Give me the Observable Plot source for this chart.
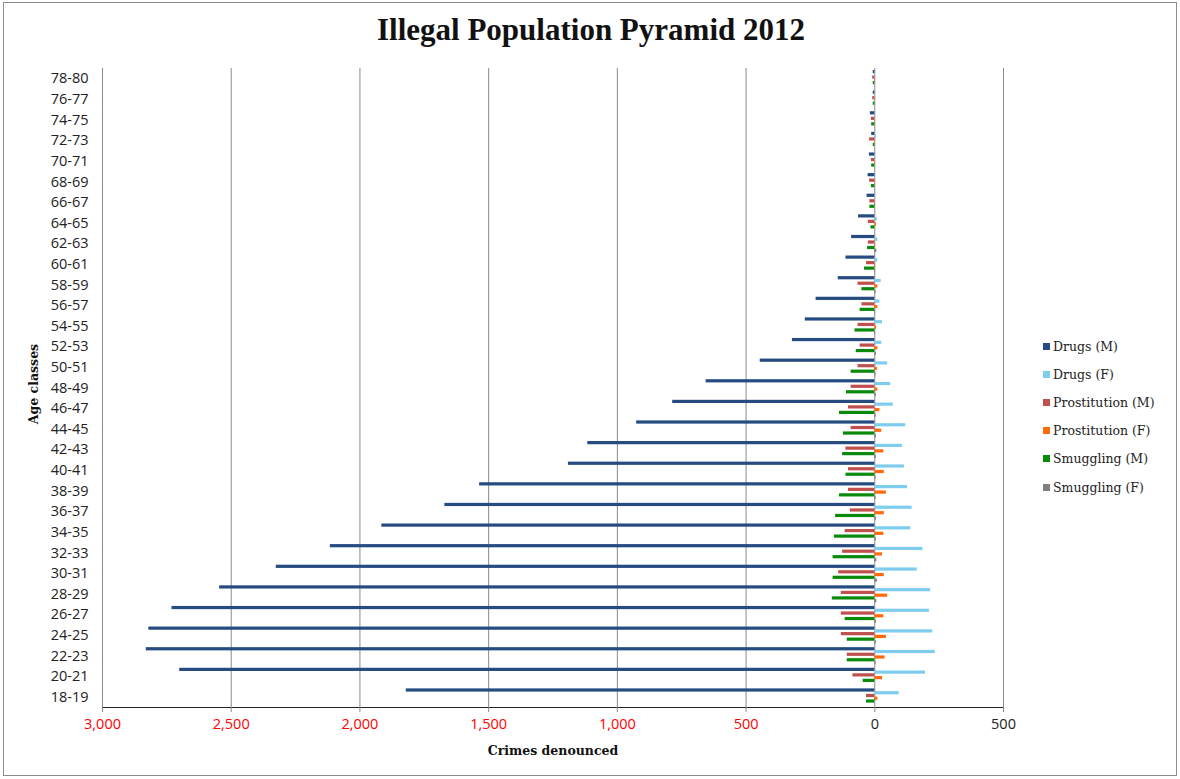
<!DOCTYPE html>
<html>
<head>
<meta charset="utf-8">
<script src="https://cdn.jsdelivr.net/npm/d3@7"></script>
<script src="https://cdn.jsdelivr.net/npm/@observablehq/plot@0.6"></script>
<style>
  body { margin: 0; background: #fff; }
  #wrap { position: relative; width: 1180px; height: 779px; overflow: hidden; background: #fff; }
  #border { position: absolute; left: 3px; top: 2px; width: 1174px; height: 774px; border: 1px solid #8c8c8c; box-sizing: border-box; pointer-events: none; }
  #chart { position: absolute; left: 0; top: 0; }
  #title { position: absolute; left: 0; width: 1182px; top: 12px; text-align: center; font-family: "Liberation Serif", serif; font-weight: bold; font-size: 31px; color: #111; }
  #xlabel { position: absolute; left: 453px; width: 200px; top: 743px; text-align: center; font-family: "DejaVu Serif", serif; font-weight: bold; font-size: 12.5px; color: #111; }
  #ylabel { position: absolute; left: 33px; top: 384px; transform: translate(-50%, -50%) rotate(-90deg); white-space: nowrap; font-family: "DejaVu Serif", serif; font-weight: bold; font-size: 12.5px; color: #111; }
  #legend { position: absolute; left: 1043px; top: 332px; font-family: "DejaVu Serif", serif; font-size: 12.5px; color: #222; }
  .item { height: 28.2px; display: flex; align-items: center; white-space: nowrap; }
  .sw { width: 7px; height: 7px; margin-right: 3px; display: inline-block; }
</style>
</head>
<body>
<div id="wrap">
  <div id="chart"></div>
  <div id="title">Illegal Population Pyramid 2012</div>
  <div id="xlabel">Crimes denounced</div>
  <div id="ylabel">Age classes</div>
  <div id="legend"></div>
  <div id="border"></div>
</div>
<script>
// Age classes, youngest first
const ages = ["18-19","20-21","22-23","24-25","26-27","28-29","30-31","32-33","34-35","36-37",
  "38-39","40-41","42-43","44-45","46-47","48-49","50-51","52-53","54-55","56-57",
  "58-59","60-61","62-63","64-65","66-67","68-69","70-71","72-73","74-75","76-77","78-80"];

const seriesNames = ["Drugs (M)","Drugs (F)","Prostitution (M)","Prostitution (F)","Smuggling (M)","Smuggling (F)"];

// Crimes denounced per age class (males drawn to the left)
const drugsM = [1820,2700,2830,2820,2730,2545,2325,2115,1915,1670,1535,1190,1115,925,785,655,445,320,270,228,142,112,90,63,30,26,21,12,17,6,6];
const drugsF = [95,197,235,225,212,217,165,187,140,145,127,115,107,120,72,62,50,27,30,20,25,12,12,10,3,3,3,6,2,2,2];
const prostM = [32,85,107,130,130,130,140,125,115,95,102,102,112,92,102,92,65,57,65,50,65,32,25,25,19,20,13,20,13,8,8];
const prostF = [12,30,40,45,35,50,37,30,35,37,45,37,35,27,20,12,10,12,7,12,12,3,3,6,2,2,2,2,2,1,1];
const smugM = [32,45,107,107,115,165,162,162,157,152,137,112,125,122,137,110,92,72,77,57,50,40,28,15,19,13,12,6,12,6,6];
const smugF = [0,0,5,6,6,8,10,8,6,6,5,5,6,6,5,6,5,6,3,3,5,3,8,0,0,0,0,0,0,0,0];

const xTicks = [-3000,-2500,-2000,-1500,-1000,-500,0,500];

const colors = ["#254B80","#7FCDEE","#C0504D","#FF6A0D","#0A8A0A","#7F7F7F"];
const seriesValues = [drugsM, drugsF, prostM, prostF, smugM, smugF];
const signs = [-1, 1, -1, 1, -1, 1];

const marginTop = 68, marginBottom = 72;
const H = 779;
const band = (H - marginTop - marginBottom) / ages.length;
const groupOffset = 2.0, barStep = 2.75, barH = 3.2;

const fmt = d3.format(",");
const marks = [
  Plot.ruleX(xTicks, {stroke: "#8a8a8a", strokeWidth: 1})
];
seriesValues.forEach((vals, i) => {
  const data = ages.map((a, j) => ({age: a, value: signs[i] * vals[j], series: seriesNames[i]}));
  const top = groupOffset + i * barStep;
  marks.push(Plot.barX(data, {
    x: "value", y: "age", fill: colors[i],
    insetTop: top, insetBottom: band - top - barH
  }));
});
marks.push(Plot.text(xTicks.filter(d => d < 0), {x: d => d, text: d => fmt(-d), frameAnchor: "bottom", dy: 21, fill: "#ff0000"}));
marks.push(Plot.text(xTicks.filter(d => d >= 0), {x: d => d, text: d => fmt(d), frameAnchor: "bottom", dy: 21, fill: "#222"}));

const chart = Plot.plot({
  width: 1180,
  height: H,
  marginTop, marginBottom,
  marginLeft: 102,
  marginRight: 177,
  style: {fontFamily: "'Open Sans', sans-serif", fontSize: "14.5px", color: "#222", background: "transparent"},
  x: {domain: [-3000, 500], ticks: xTicks, tickFormat: () => "", tickSize: 5, line: true, label: null},
  y: {domain: ages.slice().reverse(), padding: 0, round: false, tickSize: 0, tickPadding: 14, label: null},
  marks
});
document.getElementById("chart").appendChild(chart);
d3.select(chart).selectAll('[aria-label^="x-axis"]').attr("color", "#8a8a8a").style("color", "#8a8a8a");

const legend = document.getElementById("legend");
seriesNames.forEach((n, i) => {
  const it = document.createElement("div");
  it.className = "item";
  it.innerHTML = `<span class="sw" style="background:${colors[i]}"></span><span>${n}</span>`;
  legend.appendChild(it);
});
</script>
</body>
</html>
